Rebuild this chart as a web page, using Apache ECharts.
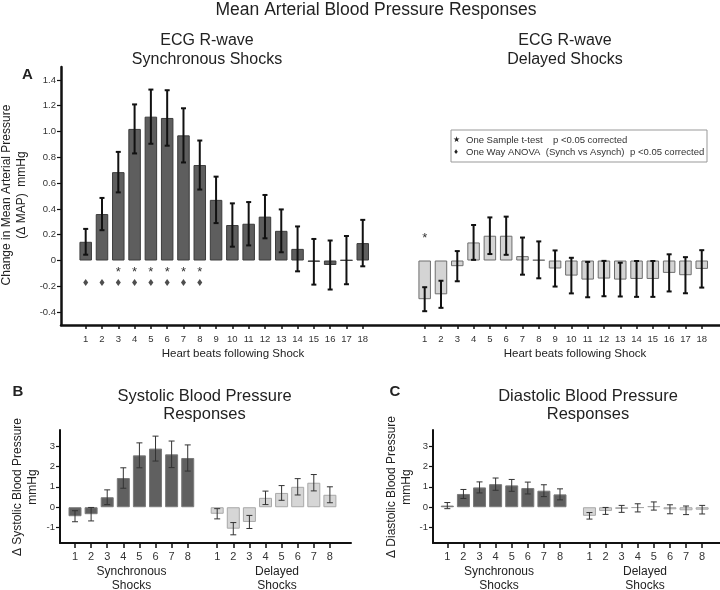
<!DOCTYPE html>
<html>
<head>
<meta charset="utf-8">
<script src="https://cdn.jsdelivr.net/npm/echarts@6/dist/echarts.min.js"></script>
<style>
html,body{margin:0;padding:0;background:#fff;}
#chart{width:720px;height:590px;}
</style>
</head>
<body>
<div id="chart"></div>
<script>
// ---------- DATA ----------
const beatsA = ['1','2','3','4','5','6','7','8','9','10','11','12','13','14','15','16','17','18'];
const synchMAP = [0.145,0.36,0.685,1.02,1.115,1.105,0.97,0.74,0.47,0.275,0.285,0.34,0.23,0.09,-0.01,-0.035,0.003,0.135];
const synchMAPErr = [0.10,0.125,0.157,0.19,0.21,0.215,0.21,0.19,0.18,0.168,0.168,0.168,0.166,0.174,0.177,0.19,0.187,0.18];
const delayedMAP = [-0.30,-0.262,-0.044,0.14,0.192,0.192,0.034,0.005,-0.062,-0.117,-0.148,-0.14,-0.148,-0.143,-0.143,-0.096,-0.114,-0.065];
const delayedMAPErr = [0.093,0.105,0.117,0.135,0.142,0.148,0.144,0.143,0.14,0.138,0.137,0.137,0.131,0.139,0.139,0.144,0.14,0.145];
const tTestSynch = ['3','4','5','6','7','8'];
const anovaSynch = ['1','2','3','4','5','6','7','8'];
const tTestDelayed = ['1'];
const yTicksA = [-0.4,-0.2,0,0.2,0.4,0.6,0.8,1.0,1.2,1.4];

const beatsBC = ['1','2','3','4','5','6','7','8'];
const synchSys = [-0.44,-0.34,0.49,1.43,2.54,2.87,2.59,2.41];
const synchSysErr = [0.27,0.33,0.36,0.5,0.61,0.61,0.65,0.64];
const delayedSys = [-0.32,-1.05,-0.72,0.46,0.70,1.0,1.2,0.61];
const delayedSysErr = [0.25,0.3,0.32,0.33,0.36,0.4,0.4,0.39];
const synchDia = [0.08,0.65,0.97,1.13,1.07,0.94,0.81,0.63];
const synchDiaErr = [0.15,0.22,0.27,0.3,0.29,0.29,0.29,0.27];
const delayedDia = [-0.42,-0.18,-0.08,-0.03,0.06,-0.1,-0.15,-0.12];
const delayedDiaErr = [0.16,0.17,0.17,0.2,0.2,0.22,0.21,0.21];
const yTicksBC = [-1,0,1,2,3];

// ---------- LAYOUT ----------
const FONT = "'Liberation Sans', Arial, Helvetica, sans-serif";
const OFF_A = 20.8;   // gap between the two groups (in beat units)
const OFF_BC = 8.83;
const SYNCH_FILL = '#5e5e5e', SYNCH_BORDER = '#3c3c3c';
const DEL_FILL = '#d4d4d4', DEL_BORDER = '#6e6e6e';

function positions(labels, offset){ return labels.map((b,i)=> i+1+offset); }
const posSA = positions(beatsA,0), posDA = positions(beatsA,OFF_A);
const posSB = positions(beatsBC,0), posDB = positions(beatsBC,OFF_BC);

function labeler(pos1, pos2, labels){
  return function(v){
    for (let i=0;i<labels.length;i++){
      if (Math.abs(pos1[i]-v)<1e-6 || Math.abs(pos2[i]-v)<1e-6) return labels[i];
    }
    return '';
  };
}

function xAxis(gi, min, max, pos, fmt, fs, lw, margin, tickLen){
  return {
    type:'value', gridIndex:gi, min:min, max:max,
    axisLine:{onZero:false, lineStyle:{color:'#111', width:lw}},
    axisTick:{show:true, customValues:pos, length:tickLen, lineStyle:{color:'#111', width:1.5}},
    axisLabel:{customValues:pos, formatter:fmt, fontSize:fs, fontFamily:FONT, color:'#333', margin:margin},
    splitLine:{show:false}
  };
}
function yAxis(gi, min, max, ticks, fmt, fs, lw){
  return {
    type:'value', gridIndex:gi, min:min, max:max,
    axisLine:{show:true, onZero:false, lineStyle:{color:'#111', width:lw}},
    axisTick:{show:true, customValues:ticks, length:4, lineStyle:{color:'#111', width:1.2}},
    axisLabel:{customValues:ticks, formatter:fmt, fontSize:fs, fontFamily:FONT, color:'#333', margin:5},
    splitLine:{show:false}
  };
}

function bars(xi, pos, vals, fill, border, bw){
  return {
    type:'bar', xAxisIndex:xi, yAxisIndex:xi, barWidth:bw, barGap:'-100%',
    data: vals.map((v,i)=>[pos[i], v]),
    itemStyle:{color:fill, borderColor:border, borderWidth:1},
    silent:true, z:2
  };
}
function errBars(xi, pos, vals, errs, color, lw, cap){
  return {
    type:'custom', xAxisIndex:xi, yAxisIndex:xi, z:5, silent:true,
    data: vals.map((v,i)=>[pos[i], v, errs[i]]),
    renderItem: function(params, api){
      const x = api.value(0), m = api.value(1), e = api.value(2);
      const t = api.coord([x, m+e]), b = api.coord([x, m-e]);
      const st = {stroke:color, lineWidth:lw};
      return {type:'group', children:[
        {type:'line', shape:{x1:t[0], y1:t[1], x2:b[0], y2:b[1]}, style:st},
        {type:'line', shape:{x1:t[0]-cap, y1:t[1], x2:t[0]+cap, y2:t[1]}, style:st},
        {type:'line', shape:{x1:b[0]-cap, y1:b[1], x2:b[0]+cap, y2:b[1]}, style:st}
      ]};
    }
  };
}
function textMarks(xi, labels, all, pos, yLevel, ch){
  return {
    type:'custom', xAxisIndex:xi, yAxisIndex:xi, z:6, silent:true,
    data: labels.map(l => [pos[all.indexOf(l)], yLevel]),
    renderItem: function(params, api){
      const p = api.coord([api.value(0), api.value(1)]);
      return {type:'text', x:p[0], y:p[1], style:{text:ch, font:'13px '+FONT, fill:'#333', align:'center', verticalAlign:'middle'}};
    }
  };
}
function diamonds(xi, labels, all, pos, yLevel){
  return {
    type:'scatter', xAxisIndex:xi, yAxisIndex:xi, z:6, silent:true,
    symbol:'diamond', symbolSize:[5,7],
    itemStyle:{color:'#222'},
    data: labels.map(l => [pos[all.indexOf(l)], yLevel])
  };
}

const fmtA = v => (Math.abs(v)<1e-9 ? '0' : v.toFixed(1));
const fmtBC = v => String(Math.round(v));

function txt(x, y, text, size, opts){
  opts = opts || {};
  return {type:'text', x:x, y:y, rotation:opts.rot||0, silent:true,
    style:{text:text, font:(opts.bold?'bold ':'')+size+'px '+FONT, fill:opts.color||'#222',
      align:opts.align||'center', verticalAlign:'middle', lineHeight:opts.lh||size*1.2}};
}

const option = {
  animation:false,
  backgroundColor:'#fff',
  grid:[
    {left:61, top:67, right:0, height:258},
    {left:60, top:430, width:291, height:113},
    {left:433, top:430, right:0, height:113}
  ],
  xAxis:[
    xAxis(0, -0.515, 39.92, posSA.concat(posDA), labeler(posSA,posDA,beatsA), 9.5, 2.5, 9, 4),
    xAxis(1, 0.068, 18.14, posSB.concat(posDB), labeler(posSB,posDB,beatsBC), 11, 2, 8, 5),
    xAxis(2, 0.11, 17.94, posSB.concat(posDB), labeler(posSB,posDB,beatsBC), 11, 2, 8, 5)
  ],
  yAxis:[
    yAxis(0, -0.5, 1.5, yTicksA, fmtA, 9.5, 2.5),
    yAxis(1, -1.75, 3.78, yTicksBC, fmtBC, 9.5, 2),
    yAxis(2, -1.75, 3.78, yTicksBC, fmtBC, 9.5, 2)
  ],
  series:[
    bars(0, posSA, synchMAP, SYNCH_FILL, SYNCH_BORDER, 12.5),
    bars(0, posDA, delayedMAP, DEL_FILL, DEL_BORDER, 12.5),
    errBars(0, posSA, synchMAP, synchMAPErr, '#111', 2, 2.5),
    errBars(0, posDA, delayedMAP, delayedMAPErr, '#111', 2, 2.5),
    textMarks(0, tTestSynch, beatsA, posSA, -0.095, '*'),
    textMarks(0, tTestDelayed, beatsA, posDA, 0.17, '*'),
    diamonds(0, anovaSynch, beatsA, posSA, -0.17),

    bars(1, posSB, synchSys, '#606060', '#7a7a7a', 13),
    bars(1, posDB, delayedSys, '#d6d6d6', '#a8a8a8', 13),
    errBars(1, posSB, synchSys, synchSysErr, '#333', 1, 3),
    errBars(1, posDB, delayedSys, delayedSysErr, '#333', 1, 3),

    bars(2, posSB, synchDia, '#606060', '#7a7a7a', 13),
    bars(2, posDB, delayedDia, '#d6d6d6', '#a8a8a8', 13),
    errBars(2, posSB, synchDia, synchDiaErr, '#333', 1, 3),
    errBars(2, posDB, delayedDia, delayedDiaErr, '#333', 1, 3)
  ],
  graphic:[
    txt(376, 10, 'Mean Arterial Blood Pressure Responses', 17.5),
    txt(207, 41, 'ECG R-wave', 16),
    txt(207, 60, 'Synchronous Shocks', 16),
    txt(565, 41, 'ECG R-wave', 16),
    txt(565, 60, 'Delayed Shocks', 16),
    txt(27.5, 75, 'A', 15, {bold:true}),
    txt(14.5, 195, 'Change in Mean Arterial Pressure\n(\u0394 MAP)  mmHg', 12, {rot:Math.PI/2, lh:15}),
    txt(233, 354, 'Heart beats following Shock', 11.5),
    txt(575, 354, 'Heart beats following Shock', 11.5),
    {type:'rect', shape:{x:451, y:130, width:256, height:32}, style:{fill:'#fff', stroke:'#999', lineWidth:1}, silent:true},
    txt(456, 140, '\u2605', 8, {color:'#222'}),
    txt(466, 140, 'One Sample t-test', 9.5, {align:'left', color:'#333'}),
    txt(553, 140, 'p <0.05 corrected', 9.5, {align:'left', color:'#333'}),
    txt(456, 152, '\u2666', 8, {color:'#222'}),
    txt(466, 152, 'One Way ANOVA  (Synch vs Asynch)', 9.5, {align:'left', color:'#333'}),
    txt(630, 152, 'p <0.05 corrected', 9.5, {align:'left', color:'#333'}),

    txt(18, 392, 'B', 15, {bold:true}),
    txt(204.5, 396, 'Systolic Blood Pressure', 16.5),
    txt(204.5, 414, 'Responses', 16.5),
    txt(25.5, 487, '\u0394 Systolic Blood Pressure\nmmHg', 12, {rot:Math.PI/2, lh:15}),
    txt(131.5, 572, 'Synchronous', 12),
    txt(131.5, 586, 'Shocks', 12),
    txt(277, 572, 'Delayed', 12),
    txt(277, 586, 'Shocks', 12),

    txt(395, 392, 'C', 15, {bold:true}),
    txt(588, 396, 'Diastolic Blood Pressure', 16.5),
    txt(588, 414, 'Responses', 16.5),
    txt(399, 487, '\u0394 Diastolic Blood Pressure\nmmHg', 12, {rot:Math.PI/2, lh:15}),
    txt(499, 572, 'Synchronous', 12),
    txt(499, 586, 'Shocks', 12),
    txt(645, 572, 'Delayed', 12),
    txt(645, 586, 'Shocks', 12)
  ]
};

const chart = echarts.init(document.getElementById('chart'), null, {renderer:'canvas'});
chart.setOption(option);
</script>
</body>
</html>
